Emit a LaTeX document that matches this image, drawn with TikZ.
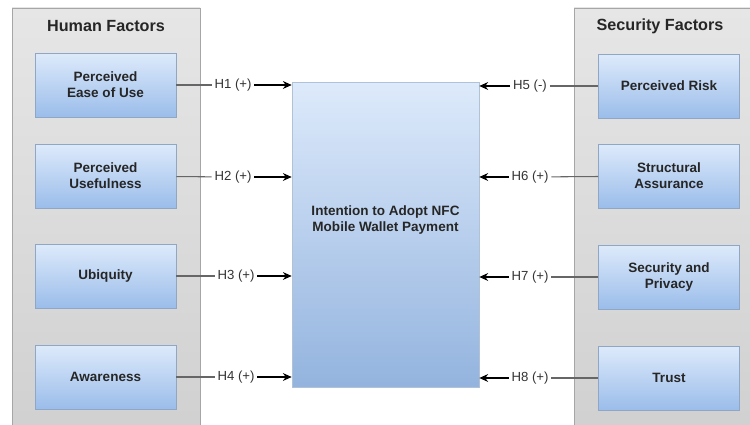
\documentclass[tikz,border=0pt]{standalone}
\usepackage{fontspec}
\setmainfont{Liberation Sans}
\usetikzlibrary{arrows.meta}
\definecolor{grigiochiaro}{HTML}{E6E6E6}
\definecolor{grigioscuro}{HTML}{D0D0D0}
\definecolor{bluchiaro}{HTML}{DDEAFB}
\definecolor{bluscuro}{HTML}{9BBDEA}
\definecolor{bordoblu}{HTML}{8FA6C4}
\begin{document}
\begin{tikzpicture}[x=0.02cm,y=-0.02cm,
    pannello/.style={draw=black!35,top color=grigiochiaro,bottom color=grigioscuro},
    titolo/.style={font=\fontsize{9.2}{11}\selectfont\bfseries,text=black!85},
    fattore/.style={draw=bordoblu,top color=bluchiaro,bottom color=bluscuro,
        minimum width=2.82cm,minimum height=1.28cm,align=center,inner sep=1pt,
        font=\fontsize{7.7}{9.2}\selectfont\bfseries,text=black!85},
    centro/.style={draw=bordoblu!70,top color=bluchiaro,bottom color=bluscuro!95!black,
        minimum width=3.74cm,minimum height=6.1cm,align=center,
        font=\fontsize{7.7}{9.2}\selectfont\bfseries,text=black!85},
    ipotesi/.style={font=\fontsize{7.5}{9}\selectfont,inner sep=1.5pt,text=black!80},
    legame/.style={draw=black!60,line width=0.6pt},
    freccia/.style={draw=black,line width=0.6pt,-{Stealth[length=5pt,width=4.5pt]}}]
    \clip (0,0) rectangle (750,425);

    % Pannelli
    \draw[pannello] (12,8) rectangle (200,440);
    \draw[pannello] (574,8) rectangle (760,440);
    \node[titolo] (hf) at (106,26) {Human Factors};
    \node[titolo] (sf) at (660,26) {Security Factors};

    % Fattori umani
    \node[fattore] (peou) at (105.5,85) {Perceived\\Ease of Use};
    \node[fattore] (pu) at (105.5,176) {Perceived\\Usefulness};
    \node[fattore] (ubi) at (105.5,276) {Ubiquity};
    \node[fattore] (awa) at (105.5,377) {Awareness};

    % Fattori di sicurezza
    \node[fattore] (pr) at (669,86) {Perceived Risk};
    \node[fattore] (sa) at (669,176) {Structural\\Assurance};
    \node[fattore] (sp) at (669,277) {Security and\\Privacy};
    \node[fattore] (tr) at (669,378) {Trust};

    % Intenzione
    \node[centro] (ic) at (385.5,234.5) {Intention to Adopt NFC\\Mobile Wallet Payment\\[1.2em]};

    % Ipotesi
    \node[ipotesi] (h1) at (233,85) {H1 (+)};
    \node[ipotesi] (h2) at (233,177) {H2 (+)};
    \node[ipotesi] (h3) at (236,276) {H3 (+)};
    \node[ipotesi] (h4) at (236,377) {H4 (+)};
    \node[ipotesi] (h5) at (530,86) {H5 (-)};
    \node[ipotesi] (h6) at (530,177) {H6 (+)};
    \node[ipotesi] (h7) at (530,277) {H7 (+)};
    \node[ipotesi] (h8) at (530,378) {H8 (+)};

    % Collegamenti
    \draw[legame] (peou) -- (h1);
    \draw[legame] (pu) -- (h2);
    \draw[legame] (ubi) -- (h3);
    \draw[legame] (awa) -- (h4);
    \draw[freccia] (h1) -- (h1 -| ic.west);
    \draw[freccia] (h2) -- (h2 -| ic.west);
    \draw[freccia] (h3) -- (h3 -| ic.west);
    \draw[freccia] (h4) -- (h4 -| ic.west);
    \draw[legame] (pr) -- (h5);
    \draw[legame] (sa) -- (h6);
    \draw[legame] (sp) -- (h7);
    \draw[legame] (tr) -- (h8);
    \draw[freccia] (h5) -- (h5 -| ic.east);
    \draw[freccia] (h6) -- (h6 -| ic.east);
    \draw[freccia] (h7) -- (h7 -| ic.east);
    \draw[freccia] (h8) -- (h8 -| ic.east);
\end{tikzpicture}
\end{document}
